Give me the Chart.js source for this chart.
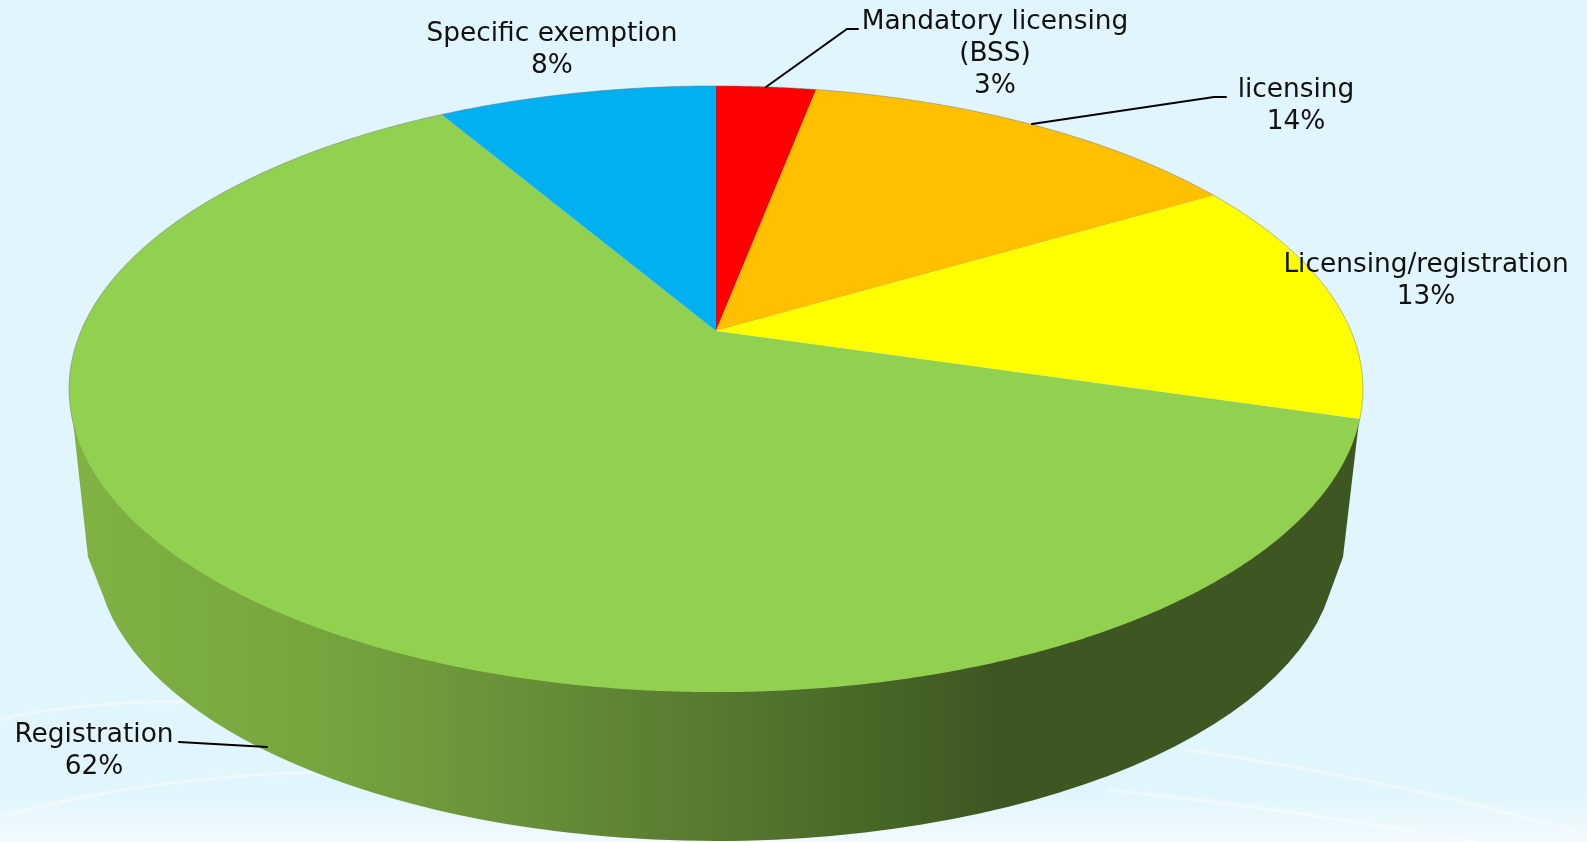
<!DOCTYPE html>
<html>
<head>
<meta charset="utf-8">
<title>Pie</title>
<script src="https://cdn.jsdelivr.net/npm/chart.js@4"></script>
<style>
    html, body { margin: 0; padding: 0; background: #e0f5fe; overflow: hidden; }
    canvas { display: block; }
</style>
</head>
<body>
<canvas id="pieChart" width="1587" height="842"></canvas>
<script>
// Chart data
const categories = [['Mandatory licensing', '(BSS)'], ['licensing'], ['Licensing/registration'], ['Registration'], ['Specific exemption']];
const shares = [3, 13.5, 13.1, 62, 8.4];
const sliceColors = ['#ff0000', '#ffc000', '#ffff00', '#92d050', '#00b0f0'];

// Where the text and its leader goes, same order as categories
const labelPlaces = [
    { x: 995, y: 29, leader: [[766, 87], [847, 29], [858, 29]] },
    { x: 1296, y: 97, leader: [[1032, 124], [1214, 97], [1226, 97]] },
    { x: 1426, y: 272, leader: null },
    { x: 94, y: 742, leader: [[179, 742], [267, 747]] },
    { x: 552, y: 41, leader: null }
];

// Perspective of the disc: apex of the slices and the size of the top face
const disc = { cx: 716, cy: 331, a: 635, b: 292, k: 0.1914 };
const wall = { cx: 716, cy: 552, rx: 620, ry: 289, skip: 0.15 };

// unit circle -> screen, phi is clockwise from 12 o'clock
const project = (phi, r = 1) => {
    const u = Math.sin(phi) * r;
    const v = Math.cos(phi) * r;
    const w = 1 + disc.k * v;
    return [disc.cx + disc.a * u / w, disc.cy - disc.b * v / w];
};

const drawBackdrop = (ctx, w, h) => {
    ctx.fillStyle = '#e0f5fe';
    ctx.fillRect(0, 0, w, h);

    const glow = ctx.createLinearGradient(0, 790, 0, 842);
    glow.addColorStop(0, 'rgba(255,255,255,0)');
    glow.addColorStop(1, 'rgba(255,255,255,0.55)');
    ctx.fillStyle = glow;
    ctx.fillRect(0, 790, w, 52);

    const swooshes = [
        [0, 719, 90, 700, 195, 702],
        [0, 817, 150, 775, 330, 772],
        [1187, 750, 1400, 780, 1587, 835],
        [1110, 790, 1350, 815, 1587, 864]
    ];
    ctx.lineCap = 'round';
    swooshes.forEach(s => {
        [[7, 0.12], [2.5, 0.4]].forEach(pen => {
            ctx.strokeStyle = 'rgba(255,255,255,' + pen[1] + ')';
            ctx.lineWidth = pen[0];
            ctx.beginPath();
            ctx.moveTo(s[0], s[1]);
            ctx.quadraticCurveTo(s[2], s[3], s[4], s[5]);
            ctx.stroke();
        });
    });
};

const drawWall = (ctx) => {
    const shade = ctx.createLinearGradient(88, 0, 1000, 0);
    shade.addColorStop(0, '#7fb143');
    shade.addColorStop(0.25, '#76a53e');
    shade.addColorStop(0.45, '#6b9239');
    shade.addColorStop(0.7, '#567830');
    shade.addColorStop(0.88, '#466526');
    shade.addColorStop(1, '#3e5622');

    ctx.beginPath();
    ctx.moveTo(1359, 421);
    ctx.lineTo(1343, 557);
    ctx.ellipse(wall.cx, wall.cy, wall.rx, wall.ry, 0, wall.skip, Math.PI - wall.skip);
    ctx.lineTo(88, 557);
    ctx.lineTo(73, 421);
    ctx.closePath();
    ctx.fillStyle = shade;
    ctx.fill();
};

const drawSlices = (ctx, meta) => {
    meta.data.forEach((arc, i) => {
        const from = arc.startAngle + Math.PI / 2;
        const to = arc.endAngle + Math.PI / 2;
        ctx.beginPath();
        ctx.moveTo(disc.cx, disc.cy);
        for (let phi = from; phi < to; phi += 0.005) {
            const p = project(phi);
            ctx.lineTo(p[0], p[1]);
        }
        const end = project(to);
        ctx.lineTo(end[0], end[1]);
        ctx.closePath();
        ctx.fillStyle = sliceColors[i];
        ctx.fill();
    });

    // thin grey rim on the far side
    ctx.beginPath();
    for (let phi = -1.9; phi < 1.9; phi += 0.01) {
        const p = project(phi);
        if (phi === -1.9) ctx.moveTo(p[0], p[1]);
        else ctx.lineTo(p[0], p[1]);
    }
    ctx.strokeStyle = 'rgba(110,110,110,0.45)';
    ctx.lineWidth = 1;
    ctx.stroke();
};

const drawLabels = (ctx) => {
    ctx.font = '26.4px "DejaVu Sans"';
    ctx.textAlign = 'center';
    ctx.textBaseline = 'alphabetic';
    ctx.fillStyle = '#111';
    categories.forEach((lines, i) => {
        const place = labelPlaces[i];
        const text = lines.concat(Math.round(shares[i]) + '%');
        text.forEach((line, n) => ctx.fillText(line, place.x, place.y + n * 32.2));

        if (place.leader) {
            ctx.beginPath();
            place.leader.forEach((p, n) => n ? ctx.lineTo(p[0], p[1]) : ctx.moveTo(p[0], p[1]));
            ctx.strokeStyle = '#000';
            ctx.lineWidth = 2;
            ctx.stroke();
        }
    });
};

const tiltedPie = {
    id: 'tiltedPie',
    beforeDatasetDraw(chart, args) {
        const ctx = chart.ctx;
        ctx.save();
        drawBackdrop(ctx, chart.width, chart.height);
        drawWall(ctx);
        drawSlices(ctx, args.meta);
        drawLabels(ctx);
        ctx.restore();
        return false;
    }
};

document.addEventListener('DOMContentLoaded', function() {
    new Chart(document.getElementById('pieChart').getContext('2d'), {
        type: 'pie',
        data: {
            labels: categories,
            datasets: [{
                data: shares,
                backgroundColor: sliceColors,
                borderWidth: 0
            }]
        },
        options: {
            responsive: false,
            animation: false,
            plugins: {
                legend: { display: false },
                tooltip: { enabled: false }
            }
        },
        plugins: [tiltedPie]
    });
});
</script>
</body>
</html>
